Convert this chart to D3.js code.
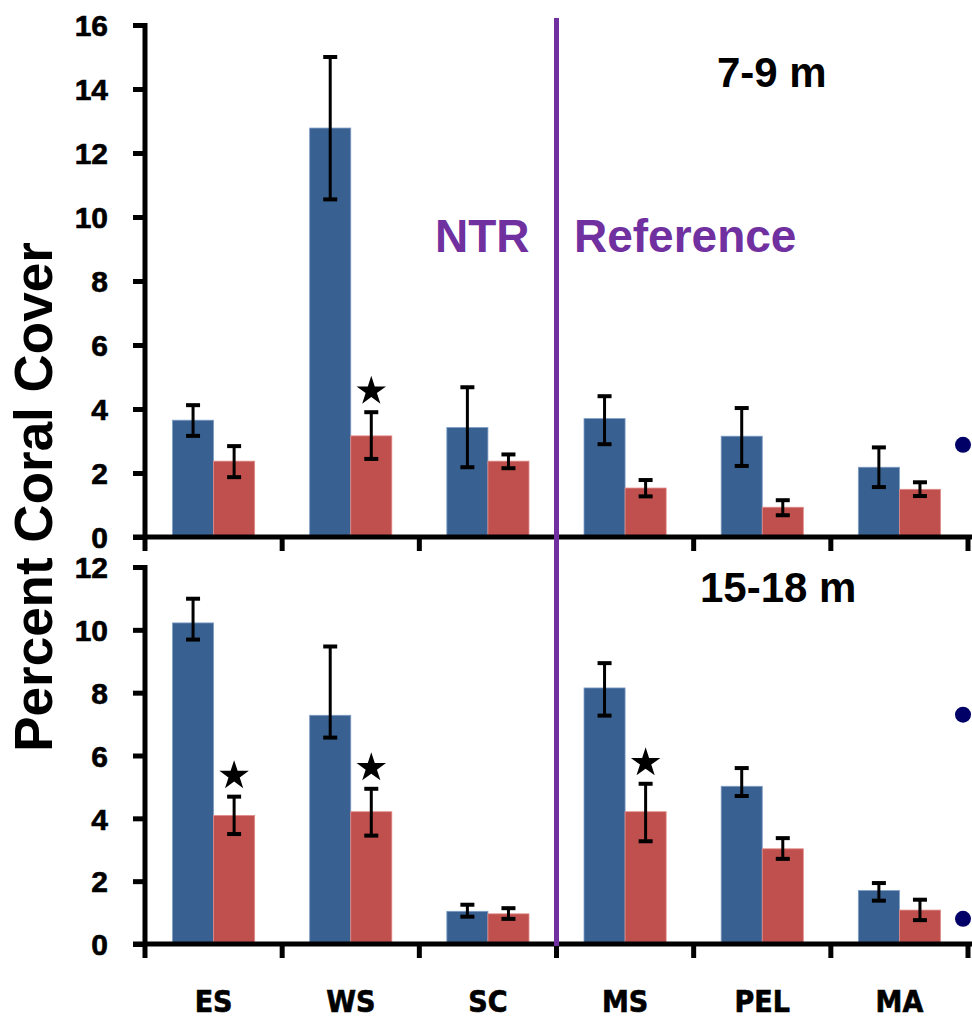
<!DOCTYPE html>
<html>
<head>
<meta charset="utf-8">
<script src="https://cdn.jsdelivr.net/npm/d3@7"></script>
<style>
  html, body { margin: 0; padding: 0; background: #fff; }
  svg { display: block; }
  .tick-label { font-family: "Liberation Sans", Arial, sans-serif; font-weight: bold; }
  .cat-label { font-family: "Liberation Sans Narrow", "DejaVu Sans Condensed", "Liberation Sans", sans-serif; font-weight: bold; }
</style>
</head>
<body>
<script>
// ---- Data ----
const categories = ["ES", "WS", "SC", "MS", "PEL", "MA"];
const seriesNames = ["blue", "red"];

// 7-9 m panel
const shallowBlue   = [3.65, 12.78, 3.42, 3.70, 3.15, 2.18];
const shallowBlueHi = [4.12, 15.00, 4.68, 4.40, 4.03, 2.80];
const shallowBlueLo = [3.16, 10.55, 2.18, 2.90, 2.22, 1.56];
const shallowRed    = [2.37, 3.16, 2.37, 1.53, 0.93, 1.49];
const shallowRedHi  = [2.84, 3.90, 2.58, 1.78, 1.15, 1.71];
const shallowRedLo  = [1.87, 2.44, 2.15, 1.27, 0.68, 1.28];
const shallowStars  = [false, true, false, false, false, false];
const shallowDots   = [2.88];
const shallowTicks  = [0, 2, 4, 6, 8, 10, 12, 14, 16];

// 15-18 m panel
const deepBlue   = [10.22, 7.28, 1.04, 8.15, 5.02, 1.70];
const deepBlueHi = [10.99, 9.47, 1.25, 8.94, 5.60, 1.94];
const deepBlueLo = [9.69, 6.57, 0.87, 7.27, 4.71, 1.38];
const deepRed    = [4.09, 4.21, 0.96, 4.21, 3.03, 1.08];
const deepRedHi  = [4.69, 4.94, 1.14, 5.10, 3.37, 1.41];
const deepRedLo  = [3.50, 3.45, 0.80, 3.27, 2.71, 0.76];
const deepStars  = [true, true, false, true, false, false];
const deepDots   = [7.30, 0.80];
const deepTicks  = [0, 2, 4, 6, 8, 10, 12];

const yTitle = "Percent Coral Cover";
const groupLabels = ["NTR", "Reference"];
const panelTitles = ["7-9 m", "15-18 m"];

// ---- Styles ----
const colors = { blue: "#386192", red: "#C0504D" };
const purple = "#7030A0";
const dotColor = "#000066";

const W = 972, H = 1021;
const svg = d3.select("body").append("svg").attr("width", W).attr("height", H);

const x0 = d3.scaleBand().domain(categories).range([145, 968]).padding(0);
const x1 = d3.scaleBand().domain(seriesNames).range([0, x0.bandwidth()])
  .paddingInner(0).paddingOuter(0.67);

function panel(cfg) {
  const g = svg.append("g");
  const y = d3.scaleLinear().domain([0, cfg.max]).range([cfg.bottom, cfg.top]);

  const rows = categories.map((c, i) => ({
    cat: c, i,
    vals: [
      { s: "blue", v: cfg.blue[i], hi: cfg.blueHi[i], lo: cfg.blueLo[i] },
      { s: "red", v: cfg.red[i], hi: cfg.redHi[i], lo: cfg.redLo[i] }
    ],
    star: cfg.stars[i]
  }));

  // bars
  const grp = g.selectAll("g.grp").data(rows).join("g")
    .attr("transform", d => `translate(${x0(d.cat)},0)`);
  grp.selectAll("rect").data(d => d.vals).join("rect")
    .attr("x", d => x1(d.s))
    .attr("width", x1.bandwidth())
    .attr("y", d => y(d.v))
    .attr("height", d => y(0) - y(d.v))
    .attr("fill", d => colors[d.s])
    .attr("stroke", d => d.s === "blue" ? "#7e9cc4" : "#e08a87")
    .attr("stroke-width", 0.8);

  // error bars
  const eb = grp.selectAll("g.eb").data(d => d.vals).join("g").attr("class", "eb");
  const cx = d => x1(d.s) + x1.bandwidth() / 2;
  eb.append("line")
    .attr("x1", cx).attr("x2", cx)
    .attr("y1", d => y(d.hi)).attr("y2", d => y(d.lo))
    .attr("stroke", "#000").attr("stroke-width", 3);
  eb.append("line")
    .attr("x1", d => cx(d) - 7).attr("x2", d => cx(d) + 7)
    .attr("y1", d => y(d.hi)).attr("y2", d => y(d.hi))
    .attr("stroke", "#000").attr("stroke-width", 4);
  eb.append("line")
    .attr("x1", d => cx(d) - 7).attr("x2", d => cx(d) + 7)
    .attr("y1", d => y(d.lo)).attr("y2", d => y(d.lo))
    .attr("stroke", "#000").attr("stroke-width", 4);

  // stars
  grp.filter(d => d.star).append("path")
    .attr("d", d3.symbol().type(d3.symbolStar).size(270))
    .attr("transform", d => `translate(${x1("red") + x1.bandwidth() / 2},${y(d.vals[1].hi) - 21})`)
    .attr("fill", "#000");

  // y axis
  const yAxis = d3.axisLeft(y).tickValues(cfg.ticks).tickSize(12).tickPadding(0).tickFormat(d3.format("d"));
  const ya = g.append("g").attr("transform", "translate(145,0)").call(yAxis);
  ya.select(".domain").attr("stroke", "#000").attr("stroke-width", 5)
    .attr("d", `M0,${y(cfg.max) - 2}V${cfg.bottom}`);
  ya.selectAll(".tick line").attr("stroke", "#000").attr("stroke-width", 5);
  ya.selectAll(".tick text").attr("class", "tick-label")
    .attr("x", -37).attr("dy", "0.36em")
    .style("font-size", "30px").attr("fill", "#000")
    .attr("stroke", "#000").attr("stroke-width", 0.6);

  // x axis
  const boundaries = categories.map(c => x0(c)).concat([x0.range()[1]]);
  g.append("line").attr("x1", 133).attr("x2", W)
    .attr("y1", cfg.bottom).attr("y2", cfg.bottom)
    .attr("stroke", "#000").attr("stroke-width", 5);
  g.selectAll("line.xt").data(boundaries).join("line")
    .attr("x1", d => d).attr("x2", d => d)
    .attr("y1", cfg.bottom).attr("y2", cfg.bottom + 14)
    .attr("stroke", "#000").attr("stroke-width", 5);

  // dots at the right edge
  g.selectAll("circle.dot").data(cfg.dots).join("circle")
    .attr("cx", 963).attr("cy", d => y(d)).attr("r", 8).attr("fill", dotColor);

  // panel title
  g.append("text").attr("x", cfg.titleX).attr("y", cfg.titleY)
    .attr("font-family", "Liberation Sans, Arial, sans-serif").attr("font-weight", "bold")
    .attr("font-size", 42).attr("fill", "#000").text(cfg.title);
  return y;
}

panel({ max: 16, top: 25, bottom: 537, blue: shallowBlue, blueHi: shallowBlueHi, blueLo: shallowBlueLo,
  red: shallowRed, redHi: shallowRedHi, redLo: shallowRedLo, stars: shallowStars, dots: shallowDots,
  ticks: shallowTicks, title: panelTitles[0], titleX: 717, titleY: 87 });
panel({ max: 12, top: 567, bottom: 944, blue: deepBlue, blueHi: deepBlueHi, blueLo: deepBlueLo,
  red: deepRed, redHi: deepRedHi, redLo: deepRedLo, stars: deepStars, dots: deepDots,
  ticks: deepTicks, title: panelTitles[1], titleX: 700, titleY: 602 });

// category labels
svg.selectAll("text.cat").data(categories).join("text")
  .attr("class", "cat-label")
  .attr("x", d => x0(d) + x0.bandwidth() / 2)
  .attr("y", 1012)
  .attr("text-anchor", "middle")
  .attr("font-size", 30)
  .attr("fill", "#000")
  .attr("stroke", "#000").attr("stroke-width", 0.6)
  .text(d => d);

// divider line
svg.append("line").attr("x1", x0("MS")).attr("x2", x0("MS"))
  .attr("y1", 18).attr("y2", 946)
  .attr("stroke", purple).attr("stroke-width", 5);

// group labels
svg.append("text").attr("x", 435).attr("y", 252)
  .attr("font-family", "Liberation Sans, Arial, sans-serif").attr("font-weight", "bold")
  .attr("font-size", 46).attr("fill", purple).text(groupLabels[0]);
svg.append("text").attr("x", 574).attr("y", 252)
  .attr("font-family", "Liberation Sans, Arial, sans-serif").attr("font-weight", "bold")
  .attr("font-size", 46).attr("fill", purple).text(groupLabels[1]);

// y title
svg.append("text")
  .attr("transform", "translate(52,497) rotate(-90)")
  .attr("text-anchor", "middle")
  .attr("font-family", "Liberation Sans, Arial, sans-serif").attr("font-weight", "bold")
  .attr("font-size", 53).attr("fill", "#000").text(yTitle);
</script>
</body>
</html>
